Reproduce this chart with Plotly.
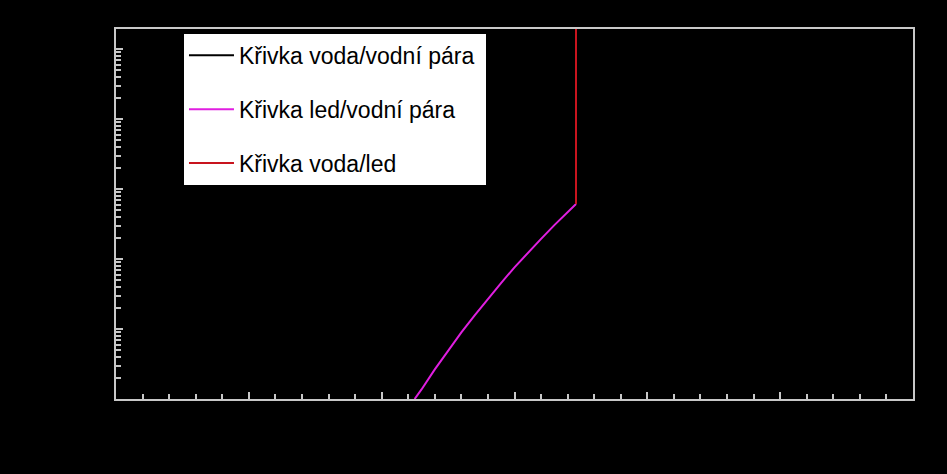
import plotly.graph_objects as go

# Water / vapour (vaporization) curve
T_water_vapor = [273.16, 280, 290, 300, 310, 320, 330, 340, 350, 360, 370, 373.15, 380, 390, 395]
p_water_vapor = [611.66, 991.8, 1920, 3537, 6231, 10546, 17213, 27188, 41682, 62194, 90535, 101418, 128960, 180170, 211400]

# Ice / vapour (sublimation) curve
T_ice_vapor = [212.4, 215, 220, 225, 230, 235, 240, 245, 250, 255, 260, 265, 270, 273.16]
p_ice_vapor = [1.0, 1.37, 2.65, 4.9, 8.97, 15.7, 27.3, 45.7, 76.0, 122.5, 194.3, 304.5, 466.9, 611.66]

# Water / ice (melting) curve
T_water_ice = [273.16, 273.15]
p_water_ice = [611.66, 200000]

names = ["Křivka voda/vodní pára", "Křivka led/vodní pára", "Křivka voda/led"]
colors = ["#000000", "#e01ee0", "#c8141e"]

fig = go.Figure()
for i, (T, p) in enumerate([(T_water_vapor, p_water_vapor),
                            (T_ice_vapor, p_ice_vapor),
                            (T_water_ice, p_water_ice)]):
    fig.add_trace(go.Scatter(x=T, y=p, mode="lines", name=names[i] + "\u00a0",
                             legendgroup=f"g{i}",
                             line=dict(color=colors[i], width=2)))

axis_col = "#c8c8c8"
fig.update_layout(
    width=947, height=474,
    paper_bgcolor="#000000", plot_bgcolor="#000000",
    margin=dict(l=116, r=34, t=29, b=75, autoexpand=False),
    font=dict(family="Liberation Sans, Arial, sans-serif", size=20, color="#000000"),
    showlegend=True,
    legend=dict(x=0.0853, y=0.987, xanchor="left", yanchor="top",
                bgcolor="#ffffff", borderwidth=0, tracegroupgap=21,
                font=dict(size=23, color="#000000"), itemwidth=45),
    xaxis=dict(range=[100, 400], dtick=50, tick0=100, ticks="inside", ticklen=7,
               tickwidth=2, tickcolor=axis_col, showline=True, linecolor=axis_col,
               linewidth=2, mirror=True, showgrid=False, zeroline=False,
               layer="below traces", showticklabels=True, ticklabelstandoff=10,
               tickfont=dict(color="#000000", size=14),
               minor=dict(dtick=10, ticks="inside", ticklen=5, tickwidth=2,
                          tickcolor=axis_col, showgrid=False)),
    yaxis=dict(type="log", range=[0, 5.286], dtick=1, ticks="inside", ticklen=7,
               tickwidth=2, tickcolor=axis_col, showline=True, linecolor=axis_col,
               linewidth=2, mirror=True, showgrid=False, zeroline=False,
               layer="below traces", showticklabels=True, ticklabelstandoff=8,
               tickfont=dict(color="#000000", size=14),
               minor=dict(dtick="D1", ticks="inside", ticklen=5, tickwidth=2,
                          tickcolor=axis_col, showgrid=False)),
)

fig.write_html(
    "out.html",
    config={"displayModeBar": False},
    post_script="document.body.style.margin='0';document.body.style.background='#000';"
                "document.body.style.overflow='hidden';",
)
